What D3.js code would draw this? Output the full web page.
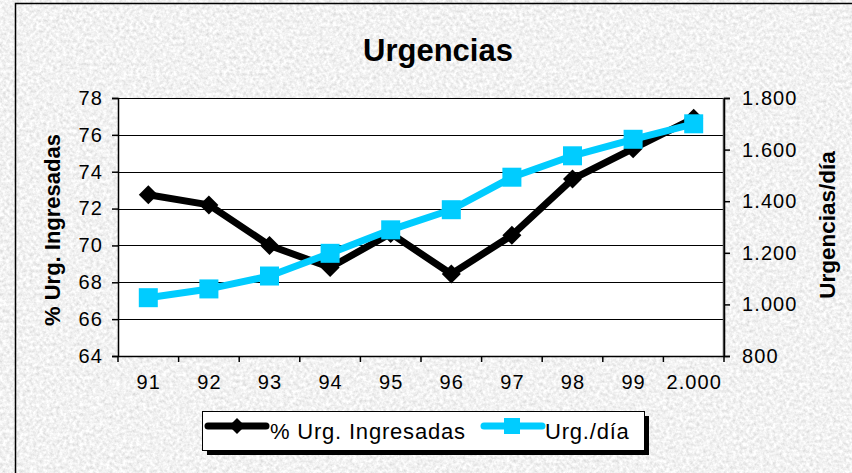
<!DOCTYPE html>
<html><head><meta charset="utf-8">
<script src="https://cdn.jsdelivr.net/npm/d3@7"></script>
<style>
html,body{margin:0;padding:0;background:#e6e6e6;overflow:hidden}
svg{display:block;font-family:"Liberation Sans",Arial,sans-serif}
</style></head>
<body>
<svg id="c" width="852" height="473"></svg>
<script>
const categories = ["91","92","93","94","95","96","97","98","99","2.000"];
const pctIngresadas = [72.75, 72.2, 70.0, 68.8, 70.65, 68.45, 70.55, 73.6, 75.25, 76.9];
const urgDia = [1026, 1060, 1110, 1198, 1289, 1367, 1493, 1576, 1640, 1700];
const leftTicks = [64,66,68,70,72,74,76,78];
const rightTicks = [800,1000,1200,1400,1600,1800];
const seriesNames = ["% Urg. Ingresadas","Urg./día"];
const title = "Urgencias";
const leftTitle = "% Urg. Ingresadas";
const rightTitle = "Urgencias/día";

const svg = d3.select("#c");
const W = 852, H = 473;
const L = 118, R = 724, T = 98, B = 356;
const blue = "#00CCFF";

// textured background
const defs = svg.append("defs");
const f = defs.append("filter").attr("id","tex").attr("x",0).attr("y",0).attr("width","100%").attr("height","100%");
f.append("feTurbulence").attr("type","fractalNoise").attr("baseFrequency","0.3").attr("numOctaves",3).attr("seed",7).attr("result","n");
f.append("feColorMatrix").attr("type","matrix")
 .attr("values","1 0 0 0 0  1 0 0 0 0  1 0 0 0 0  0 0 0 0 1");
const ct = f.append("feComponentTransfer");
["feFuncR","feFuncG","feFuncB"].forEach(k=>ct.append(k).attr("type","linear").attr("slope",0.5).attr("intercept",0.64));
svg.append("rect").attr("x",0).attr("y",0).attr("width",W).attr("height",H).attr("filter","url(#tex)");
svg.append("rect").attr("x",15.5).attr("y",3.5).attr("width",W).attr("height",H)
  .attr("fill","none").attr("stroke","#000").attr("stroke-width",1.5);

const loc = d3.formatLocale({decimal:",", thousands:".", grouping:[3], currency:["",""]});
const fmt = loc.format(",d");

const x = d3.scaleBand().domain(categories).range([L,R]);
const yL = d3.scaleLinear().domain([64,78]).range([B,T]);
const yR = d3.scaleLinear().domain([800,1800]).range([B,T]);
const cx = c => x(c) + x.bandwidth()/2;

// plot area
svg.append("rect").attr("x",L).attr("y",T).attr("width",R-L).attr("height",B-T).attr("fill","#fff");
svg.append("g").selectAll("line").data(leftTicks.filter(v=>v>64)).join("line")
  .attr("x1",L).attr("x2",R).attr("y1",d=>Math.round(yL(d))+0.5).attr("y2",d=>Math.round(yL(d))+0.5)
  .attr("stroke","#000").attr("stroke-width",1);
svg.append("line").attr("x1",R-0.5).attr("x2",R-0.5).attr("y1",T).attr("y2",B).attr("stroke","#555").attr("stroke-width",1.5);

// left axis
const gl = svg.append("g").attr("transform",`translate(${L},0)`)
  .call(d3.axisLeft(yL).tickValues(leftTicks).tickSize(6).tickPadding(9).tickFormat(d3.format("d")));
// right axis
const gr = svg.append("g").attr("transform",`translate(${R},0)`)
  .call(d3.axisRight(yR).tickValues(rightTicks).tickSize(6).tickPadding(12).tickFormat(fmt));
// bottom axis labels
const gb = svg.append("g").attr("transform",`translate(0,${B})`)
  .call(d3.axisBottom(x).tickSizeInner(0).tickSizeOuter(0).tickPadding(19));
// bottom tick marks at band boundaries
const bounds = categories.map(c=>x(c)).concat([x(categories[categories.length-1])+x.bandwidth()]);
svg.append("g").selectAll("line").data(bounds).join("line")
  .attr("x1",d=>d).attr("x2",d=>d).attr("y1",B).attr("y2",B+6).attr("stroke","#000").attr("stroke-width",1.5);
[gl,gr,gb].forEach(g=>{
  g.selectAll("text").attr("font-size","20px").attr("letter-spacing","1.1px").attr("fill","#000")
   .attr("font-family",'"Liberation Sans",Arial,sans-serif');
  g.selectAll("line").attr("stroke","#000").attr("stroke-width",1.5);
  g.select(".domain").attr("stroke","#000").attr("stroke-width",1.5);
});
gb.selectAll("text").attr("dx","0.5px");

// titles
svg.append("text").attr("x",438).attr("y",61).attr("text-anchor","middle")
  .attr("font-size","31px").attr("font-weight","bold").text(title);
svg.append("text").attr("transform",`translate(60,${(T+B)/2+3}) rotate(-90)`).attr("text-anchor","middle")
  .attr("font-size","22px").attr("font-weight","bold").text(leftTitle);
svg.append("text").attr("transform",`translate(835,${(T+B)/2-2}) rotate(-90)`).attr("text-anchor","middle")
  .attr("font-size","22.5px").attr("font-weight","bold").text(rightTitle);

// series
const lineB = d3.line().x((d,i)=>cx(categories[i])).y(d=>yL(d));
const lineC = d3.line().x((d,i)=>cx(categories[i])).y(d=>yR(d));
svg.append("path").attr("d",lineB(pctIngresadas)).attr("fill","none").attr("stroke","#000").attr("stroke-width",7).attr("stroke-linejoin","round");
const diamond = (px,py,r)=>`M${px},${py-r}L${px+r},${py}L${px},${py+r}L${px-r},${py}Z`;
svg.append("g").selectAll("path").data(pctIngresadas).join("path")
  .attr("d",(d,i)=>diamond(cx(categories[i]),yL(d),9.5)).attr("fill","#000");
svg.append("path").attr("d",lineC(urgDia)).attr("fill","none").attr("stroke",blue).attr("stroke-width",7).attr("stroke-linejoin","round");
svg.append("g").selectAll("rect").data(urgDia).join("rect")
  .attr("x",(d,i)=>cx(categories[i])-9.5).attr("y",d=>yR(d)-9.5).attr("width",19).attr("height",19).attr("fill",blue);

// legend
const lg = svg.append("g");
lg.append("rect").attr("x",207).attr("y",416).attr("width",442).attr("height",39).attr("fill","#000");
lg.append("rect").attr("x",202.5).attr("y",411.5).attr("width",442).attr("height",39).attr("fill","#fff").attr("stroke","#000").attr("stroke-width",1);
const ly = 426;
lg.append("line").attr("x1",208).attr("x2",266).attr("y1",ly).attr("y2",ly).attr("stroke","#000").attr("stroke-width",7).attr("stroke-linecap","round");
lg.append("path").attr("d",diamond(237,ly,8)).attr("fill","#000");
lg.append("text").attr("x",270).attr("y",439).attr("font-size","22px").attr("letter-spacing","0.8px").text(seriesNames[0]);
lg.append("line").attr("x1",484).attr("x2",542).attr("y1",ly).attr("y2",ly).attr("stroke",blue).attr("stroke-width",7).attr("stroke-linecap","round");
lg.append("rect").attr("x",504).attr("y",ly-8).attr("width",16).attr("height",16).attr("fill",blue);
lg.append("text").attr("x",545).attr("y",439).attr("font-size","22px").attr("letter-spacing","0.8px").text(seriesNames[1]);
</script>
</body></html>
